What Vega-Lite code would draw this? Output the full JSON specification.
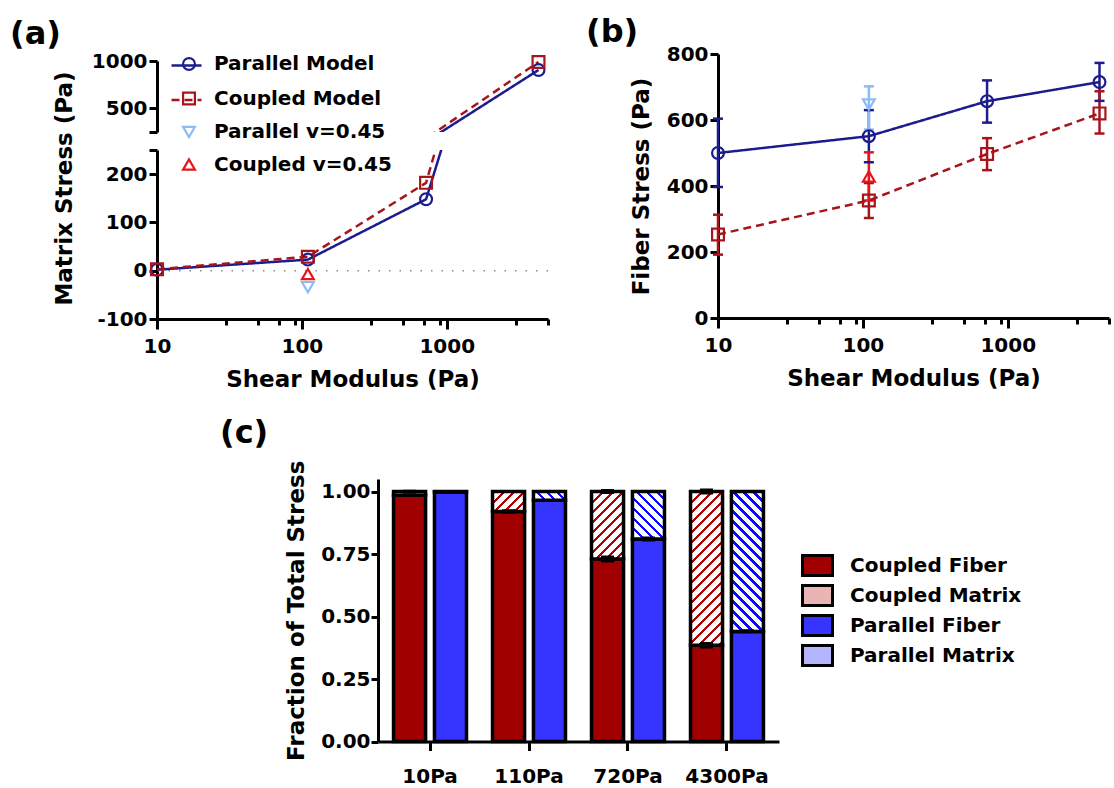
{
"$schema":"https://vega.github.io/schema/vega-lite/v6.json",
"background":"white",
"padding":{"left":10,"top":16,"right":3,"bottom":0},
"datasets":{
"aData":[
{"G":10,"stress":2,"series":"Parallel Model"},
{"G":110,"stress":23,"series":"Parallel Model"},
{"G":720,"stress":148,"series":"Parallel Model"},
{"G":4300,"stress":905,"series":"Parallel Model"},
{"G":10,"stress":3,"series":"Coupled Model"},
{"G":110,"stress":29,"series":"Coupled Model"},
{"G":720,"stress":182,"series":"Coupled Model"},
{"G":4300,"stress":990,"series":"Coupled Model"},
{"G":110,"stress":-34,"series":"Parallel v=0.45"},
{"G":110,"stress":-7,"series":"Coupled v=0.45"}
],
"bData":[
{"G":10,"stress":500,"lo":397,"hi":604,"series":"Parallel Model"},
{"G":110,"stress":551,"lo":472,"hi":630,"series":"Parallel Model"},
{"G":720,"stress":657,"lo":592,"hi":720,"series":"Parallel Model"},
{"G":4300,"stress":715,"lo":658,"hi":773,"series":"Parallel Model"},
{"G":10,"stress":253,"lo":192,"hi":313,"series":"Coupled Model"},
{"G":110,"stress":356,"lo":303,"hi":409,"series":"Coupled Model"},
{"G":720,"stress":497,"lo":448,"hi":545,"series":"Coupled Model"},
{"G":4300,"stress":620,"lo":559,"hi":687,"series":"Coupled Model"},
{"G":110,"stress":647,"lo":571,"hi":702,"series":"Parallel v=0.45"},
{"G":110,"stress":429,"lo":356,"hi":502,"series":"Coupled v=0.45"}
],
"cData":[
{"group":"10Pa","model":"Coupled","part":"Coupled Fiber","low":0,"high":0.985,"key":"C10F"},
{"group":"10Pa","model":"Coupled","part":"Coupled Matrix","low":0.985,"high":1,"key":"C10M"},
{"group":"10Pa","model":"Parallel","part":"Parallel Fiber","low":0,"high":0.998,"key":"P10F"},
{"group":"10Pa","model":"Parallel","part":"Parallel Matrix","low":0.998,"high":1,"key":"P10M"},
{"group":"110Pa","model":"Coupled","part":"Coupled Fiber","low":0,"high":0.92,"key":"C110F"},
{"group":"110Pa","model":"Coupled","part":"Coupled Matrix","low":0.92,"high":1,"key":"C110M"},
{"group":"110Pa","model":"Parallel","part":"Parallel Fiber","low":0,"high":0.965,"key":"P110F"},
{"group":"110Pa","model":"Parallel","part":"Parallel Matrix","low":0.965,"high":1,"key":"P110M"},
{"group":"720Pa","model":"Coupled","part":"Coupled Fiber","low":0,"high":0.73,"key":"C720F"},
{"group":"720Pa","model":"Coupled","part":"Coupled Matrix","low":0.73,"high":1,"key":"C720M"},
{"group":"720Pa","model":"Parallel","part":"Parallel Fiber","low":0,"high":0.81,"key":"P720F"},
{"group":"720Pa","model":"Parallel","part":"Parallel Matrix","low":0.81,"high":1,"key":"P720M"},
{"group":"4300Pa","model":"Coupled","part":"Coupled Fiber","low":0,"high":0.385,"key":"C4300F"},
{"group":"4300Pa","model":"Coupled","part":"Coupled Matrix","low":0.385,"high":1,"key":"C4300M"},
{"group":"4300Pa","model":"Parallel","part":"Parallel Fiber","low":0,"high":0.44,"key":"P4300F"},
{"group":"4300Pa","model":"Parallel","part":"Parallel Matrix","low":0.44,"high":1,"key":"P4300M"}
],
"cErr":[
{"group":"10Pa","model":"Coupled","low":0.978,"high":0.992},
{"group":"10Pa","model":"Coupled","low":0.993,"high":1.007},
{"group":"110Pa","model":"Coupled","low":0.911,"high":0.929},
{"group":"110Pa","model":"Coupled","low":0.994,"high":1.006},
{"group":"720Pa","model":"Coupled","low":0.716,"high":0.744},
{"group":"720Pa","model":"Coupled","low":0.99,"high":1.01},
{"group":"720Pa","model":"Parallel","low":0.8,"high":0.82},
{"group":"720Pa","model":"Parallel","low":0.995,"high":1.005},
{"group":"4300Pa","model":"Coupled","low":0.372,"high":0.398},
{"group":"4300Pa","model":"Coupled","low":0.988,"high":1.012},
{"group":"4300Pa","model":"Parallel","low":0.433,"high":0.449},
{"group":"4300Pa","model":"Parallel","low":0.995,"high":1.005}
]
},
"vconcat":[
{"hconcat":[
 {"vconcat":[
  {"width":391,"height":78,
   "title":{"text":"(a)","dx":-147,"offset":0},
   "data":{"name":"aData"},
   "layer":[
    {"transform":[{"filter":"datum.series == 'Parallel Model' || datum.series == 'Coupled Model'"}],
     "mark":{"type":"line","clip":true,"strokeWidth":2.5},
     "encoding":{
      "x":{"field":"G","type":"quantitative","scale":{"type":"log","domain":[10,5000],"nice":false},"axis":null},
      "y":{"field":"stress","type":"quantitative","scale":{"domain":[250,1000],"range":[78,7],"nice":false,"zero":false},"axis":{"values":[250,500,1000],"labelExpr":"datum.value == 250 ? '' : toString(datum.value)","tickSize":8,"labelPadding":2,"title":null}},
      "stroke":{"field":"series","type":"nominal","scale":{"domain":["Parallel Model","Coupled Model"],"range":["#1c1c8c","#a8141c"]},"legend":{"orient":"none","legendX":18,"legendY":0,"title":null,"symbolType":"M-1.5,0L1.5,0","symbolSize":400,"symbolStrokeWidth":2.5,"labelExpr":"''","rowPadding":12.5,"labelFontSize":20}},
      "strokeDash":{"field":"series","type":"nominal","scale":{"domain":["Parallel Model","Coupled Model"],"range":[[1,0],[8,5]]},"legend":{"orient":"none","legendX":18,"legendY":0,"title":null,"symbolType":"M-1.5,0L1.5,0","symbolSize":400,"symbolStrokeWidth":2.5,"labelExpr":"''","rowPadding":12.5,"labelFontSize":20}}
     }},
    {"transform":[{"filter":"datum.stress >= 250"}],
     "mark":{"type":"point","filled":false,"size":140,"strokeWidth":2.2,"opacity":1},
     "encoding":{
      "x":{"field":"G","type":"quantitative","scale":{"type":"log","domain":[10,5000],"nice":false},"axis":null},
      "y":{"field":"stress","type":"quantitative","scale":{"domain":[250,1000],"range":[78,7],"nice":false,"zero":false},"axis":{"values":[250,500,1000],"labelExpr":"datum.value == 250 ? '' : toString(datum.value)","tickSize":8,"labelPadding":2,"title":null}},
      "color":{"field":"series","type":"nominal","scale":{"domain":["Parallel Model","Coupled Model","Parallel v=0.45","Coupled v=0.45"],"range":["#1c1c8c","#a8141c","#8cbcf4","#e8141c"]},"legend":{"orient":"none","legendX":22,"legendY":0,"title":null,"symbolSize":140,"symbolStrokeWidth":2.2,"labelOffset":15,"rowPadding":12.5,"labelFontSize":20}},
      "shape":{"field":"series","type":"nominal","scale":{"domain":["Parallel Model","Coupled Model","Parallel v=0.45","Coupled v=0.45"],"range":["circle","square","triangle-down","triangle-up"]},"legend":{"orient":"none","legendX":22,"legendY":0,"title":null,"symbolSize":140,"symbolStrokeWidth":2.2,"labelOffset":15,"rowPadding":12.5,"labelFontSize":20}}
     }}
   ]},
  {"width":391,"height":169,
   "data":{"name":"aData"},
   "layer":[
    {"data":{"values":[{"z":0}]},
     "mark":{"type":"rule","color":"#8a8a8a","strokeWidth":1.5,"strokeDash":[1.5,9]},
     "encoding":{"y":{"datum":0}}},
    {"transform":[{"filter":"datum.series == 'Parallel Model' || datum.series == 'Coupled Model'"}],
     "mark":{"type":"line","clip":true,"strokeWidth":2.5},
     "encoding":{
      "x":{"field":"G","type":"quantitative","scale":{"type":"log","domain":[10,5000],"nice":false},"axis":{"values":[10,30,50,70,90,100,300,500,700,900,1000,3000,5000],"labelExpr":"datum.value == 10 || datum.value == 100 || datum.value == 1000 ? toString(datum.value) : ''","tickSize":10,"tickDash":{"condition":{"test":"datum.value == 10 || datum.value == 100 || datum.value == 1000","value":[]},"value":[6,20]},"labelPadding":7,"title":"Shear Modulus (Pa)","titlePadding":12}},
      "y":{"field":"stress","type":"quantitative","scale":{"domain":[-100,250],"nice":false,"zero":false},"axis":{"values":[-100,0,100,200,250],"labelExpr":"datum.value == 250 ? '' : toString(datum.value)","tickSize":8,"labelPadding":2,"title":"Matrix Stress (Pa)","titleY":38,"titlePadding":20}},
      "stroke":{"field":"series","type":"nominal","scale":{"domain":["Parallel Model","Coupled Model"],"range":["#1c1c8c","#a8141c"]},"legend":null},
      "strokeDash":{"field":"series","type":"nominal","scale":{"domain":["Parallel Model","Coupled Model"],"range":[[1,0],[8,5]]},"legend":null}
     }},
    {"transform":[{"filter":"datum.stress <= 250"}],
     "mark":{"type":"point","filled":false,"size":140,"strokeWidth":2.2,"opacity":1},
     "encoding":{
      "x":{"field":"G","type":"quantitative","scale":{"type":"log","domain":[10,5000],"nice":false}},
      "y":{"field":"stress","type":"quantitative","scale":{"domain":[-100,250],"nice":false,"zero":false}},
      "color":{"field":"series","type":"nominal","scale":{"domain":["Parallel Model","Coupled Model","Parallel v=0.45","Coupled v=0.45"],"range":["#1c1c8c","#a8141c","#8cbcf4","#e8141c"]},"legend":null},
      "shape":{"field":"series","type":"nominal","scale":{"domain":["Parallel Model","Coupled Model","Parallel v=0.45","Coupled v=0.45"],"range":["circle","square","triangle-down","triangle-up"]},"legend":null}
     }}
   ]}
 ],
 "spacing":18,"bounds":"flush",
 "resolve":{"scale":{"x":"independent","y":"independent","color":"independent","shape":"independent","stroke":"independent","strokeDash":"independent"},"legend":{"color":"independent","shape":"independent","stroke":"independent","strokeDash":"independent"}}},
 {"width":391,"height":264,
  "title":{"text":"(b)","dx":-132,"offset":-5},
  "data":{"name":"bData"},
  "layer":[
   {"mark":{"type":"rule","strokeWidth":2.5},
    "encoding":{
     "x":{"field":"G","type":"quantitative","scale":{"type":"log","domain":[10,5000],"nice":false},"axis":{"values":[10,30,50,70,90,100,300,500,700,900,1000,3000,5000],"labelExpr":"datum.value == 10 || datum.value == 100 || datum.value == 1000 ? toString(datum.value) : ''","tickSize":10,"tickDash":{"condition":{"test":"datum.value == 10 || datum.value == 100 || datum.value == 1000","value":[]},"value":[6,20]},"labelPadding":7,"title":"Shear Modulus (Pa)","titlePadding":12}},
     "y":{"field":"lo","type":"quantitative","scale":{"domain":[0,800],"nice":false},"axis":{"values":[0,200,400,600,800],"tickSize":8,"labelPadding":2,"title":"Fiber Stress (Pa)","titlePadding":13}},
     "y2":{"field":"hi"},
     "color":{"field":"series","type":"nominal","scale":{"domain":["Parallel Model","Coupled Model","Parallel v=0.45","Coupled v=0.45"],"range":["#1c1c8c","#a8141c","#8cbcf4","#e8141c"]},"legend":null}
    }},
   {"mark":{"type":"tick","orient":"horizontal","size":10,"thickness":2.5,"opacity":1},
    "encoding":{
     "x":{"field":"G","type":"quantitative","scale":{"type":"log","domain":[10,5000],"nice":false}},
     "y":{"field":"lo","type":"quantitative","scale":{"domain":[0,800],"nice":false},"axis":{"values":[0,200,400,600,800],"tickSize":8,"labelPadding":2,"title":"Fiber Stress (Pa)","titlePadding":13}},
     "color":{"field":"series","type":"nominal","legend":null}
    }},
   {"mark":{"type":"tick","orient":"horizontal","size":10,"thickness":2.5,"opacity":1},
    "encoding":{
     "x":{"field":"G","type":"quantitative","scale":{"type":"log","domain":[10,5000],"nice":false}},
     "y":{"field":"hi","type":"quantitative","scale":{"domain":[0,800],"nice":false},"axis":{"values":[0,200,400,600,800],"tickSize":8,"labelPadding":2,"title":"Fiber Stress (Pa)","titlePadding":13}},
     "color":{"field":"series","type":"nominal","legend":null}
    }},
   {"transform":[{"filter":"datum.series == 'Parallel Model' || datum.series == 'Coupled Model'"}],
    "mark":{"type":"line","strokeWidth":2.5},
    "encoding":{
     "x":{"field":"G","type":"quantitative","scale":{"type":"log","domain":[10,5000],"nice":false}},
     "y":{"field":"stress","type":"quantitative","scale":{"domain":[0,800],"nice":false},"axis":{"values":[0,200,400,600,800],"tickSize":8,"labelPadding":2,"title":"Fiber Stress (Pa)","titlePadding":13}},
     "stroke":{"field":"series","type":"nominal","scale":{"domain":["Parallel Model","Coupled Model"],"range":["#1c1c8c","#a8141c"]},"legend":null},
     "strokeDash":{"field":"series","type":"nominal","scale":{"domain":["Parallel Model","Coupled Model"],"range":[[1,0],[8,5]]},"legend":null}
    }},
   {"mark":{"type":"point","filled":false,"size":140,"strokeWidth":2.2,"opacity":1},
    "encoding":{
     "x":{"field":"G","type":"quantitative","scale":{"type":"log","domain":[10,5000],"nice":false}},
     "y":{"field":"stress","type":"quantitative","scale":{"domain":[0,800],"nice":false},"axis":{"values":[0,200,400,600,800],"tickSize":8,"labelPadding":2,"title":"Fiber Stress (Pa)","titlePadding":13}},
     "color":{"field":"series","type":"nominal","legend":null},
     "shape":{"field":"series","type":"nominal","scale":{"domain":["Parallel Model","Coupled Model","Parallel v=0.45","Coupled v=0.45"],"range":["circle","square","triangle-down","triangle-up"]},"legend":null}
    }}
  ]}
],
"spacing":561,"bounds":"flush",
"resolve":{"scale":{"color":"independent","shape":"independent","stroke":"independent","strokeDash":"independent"},"legend":{"color":"independent","shape":"independent","stroke":"independent","strokeDash":"independent"}}},
{"hconcat":[
 {"width":201,"height":20,"data":{"values":[{"s":1}]},"mark":{"type":"point","opacity":0},"encoding":{}},
 {"width":401,"height":262.5,
  "title":{"text":"(c)","dx":-158,"offset":10},
  "encoding":{
   "x":{"field":"group","type":"nominal","scale":{"domain":["10Pa","110Pa","720Pa","4300Pa"],"paddingInner":0.263,"paddingOuter":0.157},"axis":{"title":null,"labelPadding":16,"tickSize":9,"labelAngle":0}},
   "xOffset":{"field":"model","type":"nominal","scale":{"domain":["Coupled","Parallel"],"paddingInner":0.217,"paddingOuter":0}},
   "y":{"field":"low","type":"quantitative","scale":{"domain":[0,1.05],"nice":false},"axis":{"values":[0,0.25,0.5,0.75,1],"format":".2f","tickSize":7,"labelPadding":1,"title":"Fraction of Total Stress","titlePadding":12}},
   "y2":{"field":"high"}
  },
  "layer":[
   {"data":{"name":"cData"},
    "transform":[{"filter":"datum.part == 'Coupled Fiber' || datum.part == 'Parallel Fiber'"}],
    "mark":{"type":"bar","stroke":"black","strokeWidth":3.5},
    "encoding":{"fill":{"field":"part","type":"nominal",
     "scale":{"domain":["Coupled Fiber","Coupled Matrix","Parallel Fiber","Parallel Matrix"],
      "range":["#a00000","#eab4b4","#3535ff","#b4b4fa"]},
     "legend":{"orient":"none","legendX":649,"legendY":75,"title":null,"symbolType":"M-1.5,-1L1.5,-1L1.5,1L-1.5,1Z","symbolSize":400,"symbolStrokeColor":"black","symbolStrokeWidth":3,"labelOffset":21,"rowPadding":-3,"labelFontSize":20}}}},
   {"data":{"name":"cData"},
    "transform":[{"filter":"datum.key == 'C10M' || datum.key == 'P10M'"}],
    "mark":{"type":"bar","fill":"#ffffff","stroke":"black","strokeWidth":3.5}},
   {"data":{"name":"cData"},
    "transform":[{"filter":"datum.key == 'C110M'"}],
    "mark":{"type":"bar","stroke":"black","strokeWidth":3.5,
     "fill":{"gradient":"linear","x1":0,"y1":0,"x2":1.1685,"y2":0.7303,"stops":[{"offset":0,"color":"#b00000"},{"offset":0.0673,"color":"#b00000"},{"offset":0.0673,"color":"#ffffff"},{"offset":0.1923,"color":"#ffffff"},{"offset":0.1923,"color":"#b00000"},{"offset":0.2596,"color":"#b00000"},{"offset":0.2596,"color":"#ffffff"},{"offset":0.3846,"color":"#ffffff"},{"offset":0.3846,"color":"#b00000"},{"offset":0.4519,"color":"#b00000"},{"offset":0.4519,"color":"#ffffff"},{"offset":0.5769,"color":"#ffffff"},{"offset":0.5769,"color":"#b00000"},{"offset":0.6442,"color":"#b00000"},{"offset":0.6442,"color":"#ffffff"},{"offset":0.7692,"color":"#ffffff"},{"offset":0.7692,"color":"#b00000"},{"offset":0.8365,"color":"#b00000"},{"offset":0.8365,"color":"#ffffff"},{"offset":0.9615,"color":"#ffffff"},{"offset":0.9615,"color":"#b00000"},{"offset":1,"color":"#b00000"}]}}},
   {"data":{"name":"cData"},
    "transform":[{"filter":"datum.key == 'C720M'"}],
    "mark":{"type":"bar","stroke":"black","strokeWidth":3.5,
     "fill":{"gradient":"linear","x1":0,"y1":0,"x2":0.5706,"y2":1.2036,"stops":[{"offset":0,"color":"#b00000"},{"offset":0.0352,"color":"#b00000"},{"offset":0.0352,"color":"#ffffff"},{"offset":0.1005,"color":"#ffffff"},{"offset":0.1005,"color":"#b00000"},{"offset":0.1357,"color":"#b00000"},{"offset":0.1357,"color":"#ffffff"},{"offset":0.201,"color":"#ffffff"},{"offset":0.201,"color":"#b00000"},{"offset":0.2362,"color":"#b00000"},{"offset":0.2362,"color":"#ffffff"},{"offset":0.3015,"color":"#ffffff"},{"offset":0.3015,"color":"#b00000"},{"offset":0.3367,"color":"#b00000"},{"offset":0.3367,"color":"#ffffff"},{"offset":0.402,"color":"#ffffff"},{"offset":0.402,"color":"#b00000"},{"offset":0.4372,"color":"#b00000"},{"offset":0.4372,"color":"#ffffff"},{"offset":0.5025,"color":"#ffffff"},{"offset":0.5025,"color":"#b00000"},{"offset":0.5377,"color":"#b00000"},{"offset":0.5377,"color":"#ffffff"},{"offset":0.603,"color":"#ffffff"},{"offset":0.603,"color":"#b00000"},{"offset":0.6382,"color":"#b00000"},{"offset":0.6382,"color":"#ffffff"},{"offset":0.7035,"color":"#ffffff"},{"offset":0.7035,"color":"#b00000"},{"offset":0.7387,"color":"#b00000"},{"offset":0.7387,"color":"#ffffff"},{"offset":0.804,"color":"#ffffff"},{"offset":0.804,"color":"#b00000"},{"offset":0.8392,"color":"#b00000"},{"offset":0.8392,"color":"#ffffff"},{"offset":0.9045,"color":"#ffffff"},{"offset":0.9045,"color":"#b00000"},{"offset":0.9397,"color":"#b00000"},{"offset":0.9397,"color":"#ffffff"},{"offset":1,"color":"#ffffff"}]}}},
   {"data":{"name":"cData"},
    "transform":[{"filter":"datum.key == 'C4300M'"}],
    "mark":{"type":"bar","stroke":"black","strokeWidth":3.5,
     "fill":{"gradient":"linear","x1":0,"y1":0,"x2":0.241,"y2":1.158,"stops":[{"offset":0,"color":"#b00000"},{"offset":0.0188,"color":"#b00000"},{"offset":0.0188,"color":"#ffffff"},{"offset":0.0538,"color":"#ffffff"},{"offset":0.0538,"color":"#b00000"},{"offset":0.0727,"color":"#b00000"},{"offset":0.0727,"color":"#ffffff"},{"offset":0.1077,"color":"#ffffff"},{"offset":0.1077,"color":"#b00000"},{"offset":0.1265,"color":"#b00000"},{"offset":0.1265,"color":"#ffffff"},{"offset":0.1615,"color":"#ffffff"},{"offset":0.1615,"color":"#b00000"},{"offset":0.1804,"color":"#b00000"},{"offset":0.1804,"color":"#ffffff"},{"offset":0.2154,"color":"#ffffff"},{"offset":0.2154,"color":"#b00000"},{"offset":0.2342,"color":"#b00000"},{"offset":0.2342,"color":"#ffffff"},{"offset":0.2692,"color":"#ffffff"},{"offset":0.2692,"color":"#b00000"},{"offset":0.2881,"color":"#b00000"},{"offset":0.2881,"color":"#ffffff"},{"offset":0.323,"color":"#ffffff"},{"offset":0.323,"color":"#b00000"},{"offset":0.3419,"color":"#b00000"},{"offset":0.3419,"color":"#ffffff"},{"offset":0.3769,"color":"#ffffff"},{"offset":0.3769,"color":"#b00000"},{"offset":0.3957,"color":"#b00000"},{"offset":0.3957,"color":"#ffffff"},{"offset":0.4307,"color":"#ffffff"},{"offset":0.4307,"color":"#b00000"},{"offset":0.4496,"color":"#b00000"},{"offset":0.4496,"color":"#ffffff"},{"offset":0.4846,"color":"#ffffff"},{"offset":0.4846,"color":"#b00000"},{"offset":0.5034,"color":"#b00000"},{"offset":0.5034,"color":"#ffffff"},{"offset":0.5384,"color":"#ffffff"},{"offset":0.5384,"color":"#b00000"},{"offset":0.5573,"color":"#b00000"},{"offset":0.5573,"color":"#ffffff"},{"offset":0.5922,"color":"#ffffff"},{"offset":0.5922,"color":"#b00000"},{"offset":0.6111,"color":"#b00000"},{"offset":0.6111,"color":"#ffffff"},{"offset":0.6461,"color":"#ffffff"},{"offset":0.6461,"color":"#b00000"},{"offset":0.6649,"color":"#b00000"},{"offset":0.6649,"color":"#ffffff"},{"offset":0.6999,"color":"#ffffff"},{"offset":0.6999,"color":"#b00000"},{"offset":0.7188,"color":"#b00000"},{"offset":0.7188,"color":"#ffffff"},{"offset":0.7538,"color":"#ffffff"},{"offset":0.7538,"color":"#b00000"},{"offset":0.7726,"color":"#b00000"},{"offset":0.7726,"color":"#ffffff"},{"offset":0.8076,"color":"#ffffff"},{"offset":0.8076,"color":"#b00000"},{"offset":0.8264,"color":"#b00000"},{"offset":0.8264,"color":"#ffffff"},{"offset":0.8614,"color":"#ffffff"},{"offset":0.8614,"color":"#b00000"},{"offset":0.8803,"color":"#b00000"},{"offset":0.8803,"color":"#ffffff"},{"offset":0.9153,"color":"#ffffff"},{"offset":0.9153,"color":"#b00000"},{"offset":0.9341,"color":"#b00000"},{"offset":0.9341,"color":"#ffffff"},{"offset":0.9691,"color":"#ffffff"},{"offset":0.9691,"color":"#b00000"},{"offset":0.988,"color":"#b00000"},{"offset":0.988,"color":"#ffffff"},{"offset":1,"color":"#ffffff"}]}}},
   {"data":{"name":"cData"},
    "transform":[{"filter":"datum.key == 'P110M'"}],
    "mark":{"type":"bar","stroke":"black","strokeWidth":3.5,
     "fill":{"gradient":"linear","x1":0,"y1":1,"x2":1.1849,"y2":0.676,"stops":[{"offset":0,"color":"#0a0aff"},{"offset":0.0859,"color":"#0a0aff"},{"offset":0.0859,"color":"#ffffff"},{"offset":0.2454,"color":"#ffffff"},{"offset":0.2454,"color":"#0a0aff"},{"offset":0.3313,"color":"#0a0aff"},{"offset":0.3313,"color":"#ffffff"},{"offset":0.4908,"color":"#ffffff"},{"offset":0.4908,"color":"#0a0aff"},{"offset":0.5767,"color":"#0a0aff"},{"offset":0.5767,"color":"#ffffff"},{"offset":0.7362,"color":"#ffffff"},{"offset":0.7362,"color":"#0a0aff"},{"offset":0.8221,"color":"#0a0aff"},{"offset":0.8221,"color":"#ffffff"},{"offset":0.9816,"color":"#ffffff"},{"offset":0.9816,"color":"#0a0aff"},{"offset":1,"color":"#0a0aff"}]}}},
   {"data":{"name":"cData"},
    "transform":[{"filter":"datum.key == 'P720M'"}],
    "mark":{"type":"bar","stroke":"black","strokeWidth":3.5,
     "fill":{"gradient":"linear","x1":0,"y1":1,"x2":0.7755,"y2":-0.1512,"stops":[{"offset":0,"color":"#0a0aff"},{"offset":0.044,"color":"#0a0aff"},{"offset":0.044,"color":"#ffffff"},{"offset":0.1258,"color":"#ffffff"},{"offset":0.1258,"color":"#0a0aff"},{"offset":0.1698,"color":"#0a0aff"},{"offset":0.1698,"color":"#ffffff"},{"offset":0.2516,"color":"#ffffff"},{"offset":0.2516,"color":"#0a0aff"},{"offset":0.2956,"color":"#0a0aff"},{"offset":0.2956,"color":"#ffffff"},{"offset":0.3774,"color":"#ffffff"},{"offset":0.3774,"color":"#0a0aff"},{"offset":0.4214,"color":"#0a0aff"},{"offset":0.4214,"color":"#ffffff"},{"offset":0.5032,"color":"#ffffff"},{"offset":0.5032,"color":"#0a0aff"},{"offset":0.5472,"color":"#0a0aff"},{"offset":0.5472,"color":"#ffffff"},{"offset":0.629,"color":"#ffffff"},{"offset":0.629,"color":"#0a0aff"},{"offset":0.673,"color":"#0a0aff"},{"offset":0.673,"color":"#ffffff"},{"offset":0.7548,"color":"#ffffff"},{"offset":0.7548,"color":"#0a0aff"},{"offset":0.7988,"color":"#0a0aff"},{"offset":0.7988,"color":"#ffffff"},{"offset":0.8806,"color":"#ffffff"},{"offset":0.8806,"color":"#0a0aff"},{"offset":0.9246,"color":"#0a0aff"},{"offset":0.9246,"color":"#ffffff"},{"offset":1,"color":"#ffffff"}]}}},
   {"data":{"name":"cData"},
    "transform":[{"filter":"datum.key == 'P4300M'"}],
    "mark":{"type":"bar","stroke":"black","strokeWidth":3.5,
     "fill":{"gradient":"linear","x1":0,"y1":1,"x2":0.26687,"y2":-0.1676,"stops":[{"offset":0,"color":"#0a0aff"},{"offset":0.0203,"color":"#0a0aff"},{"offset":0.0203,"color":"#ffffff"},{"offset":0.0581,"color":"#ffffff"},{"offset":0.0581,"color":"#0a0aff"},{"offset":0.0785,"color":"#0a0aff"},{"offset":0.0785,"color":"#ffffff"},{"offset":0.1163,"color":"#ffffff"},{"offset":0.1163,"color":"#0a0aff"},{"offset":0.1366,"color":"#0a0aff"},{"offset":0.1366,"color":"#ffffff"},{"offset":0.1744,"color":"#ffffff"},{"offset":0.1744,"color":"#0a0aff"},{"offset":0.1948,"color":"#0a0aff"},{"offset":0.1948,"color":"#ffffff"},{"offset":0.2326,"color":"#ffffff"},{"offset":0.2326,"color":"#0a0aff"},{"offset":0.2529,"color":"#0a0aff"},{"offset":0.2529,"color":"#ffffff"},{"offset":0.2907,"color":"#ffffff"},{"offset":0.2907,"color":"#0a0aff"},{"offset":0.311,"color":"#0a0aff"},{"offset":0.311,"color":"#ffffff"},{"offset":0.3488,"color":"#ffffff"},{"offset":0.3488,"color":"#0a0aff"},{"offset":0.3692,"color":"#0a0aff"},{"offset":0.3692,"color":"#ffffff"},{"offset":0.407,"color":"#ffffff"},{"offset":0.407,"color":"#0a0aff"},{"offset":0.4273,"color":"#0a0aff"},{"offset":0.4273,"color":"#ffffff"},{"offset":0.4651,"color":"#ffffff"},{"offset":0.4651,"color":"#0a0aff"},{"offset":0.4855,"color":"#0a0aff"},{"offset":0.4855,"color":"#ffffff"},{"offset":0.5233,"color":"#ffffff"},{"offset":0.5233,"color":"#0a0aff"},{"offset":0.5436,"color":"#0a0aff"},{"offset":0.5436,"color":"#ffffff"},{"offset":0.5814,"color":"#ffffff"},{"offset":0.5814,"color":"#0a0aff"},{"offset":0.6017,"color":"#0a0aff"},{"offset":0.6017,"color":"#ffffff"},{"offset":0.6395,"color":"#ffffff"},{"offset":0.6395,"color":"#0a0aff"},{"offset":0.6599,"color":"#0a0aff"},{"offset":0.6599,"color":"#ffffff"},{"offset":0.6977,"color":"#ffffff"},{"offset":0.6977,"color":"#0a0aff"},{"offset":0.718,"color":"#0a0aff"},{"offset":0.718,"color":"#ffffff"},{"offset":0.7558,"color":"#ffffff"},{"offset":0.7558,"color":"#0a0aff"},{"offset":0.7762,"color":"#0a0aff"},{"offset":0.7762,"color":"#ffffff"},{"offset":0.814,"color":"#ffffff"},{"offset":0.814,"color":"#0a0aff"},{"offset":0.8343,"color":"#0a0aff"},{"offset":0.8343,"color":"#ffffff"},{"offset":0.8721,"color":"#ffffff"},{"offset":0.8721,"color":"#0a0aff"},{"offset":0.8924,"color":"#0a0aff"},{"offset":0.8924,"color":"#ffffff"},{"offset":0.9302,"color":"#ffffff"},{"offset":0.9302,"color":"#0a0aff"},{"offset":0.9506,"color":"#0a0aff"},{"offset":0.9506,"color":"#ffffff"},{"offset":0.9884,"color":"#ffffff"},{"offset":0.9884,"color":"#0a0aff"},{"offset":1,"color":"#0a0aff"}]}}},
   {"data":{"name":"cErr"},
    "mark":{"type":"bar","fill":"black","width":13}}
  ]}
],
"spacing":20,"bounds":"flush"}
],
"spacing":425,"bounds":"flush",
"resolve":{"scale":{"color":"independent","shape":"independent","stroke":"independent","strokeDash":"independent","fill":"independent"},"legend":{"color":"independent","shape":"independent","stroke":"independent","strokeDash":"independent","fill":"independent"}},
"config":{
 "view":{"stroke":null},
 "axis":{"domainColor":"black","domainWidth":3,"tickColor":"black","tickWidth":3,"labelFont":"DejaVu Sans","labelFontWeight":"bold","labelFontSize":20,"labelColor":"black","titleFont":"DejaVu Sans","titleFontWeight":"bold","titleFontSize":23,"titleColor":"black","grid":false,"labelFlush":false,"labelOverlap":false},
 "legend":{"labelFont":"DejaVu Sans","labelFontWeight":"bold","labelFontSize":20,"labelColor":"black","symbolOpacity":1,"labelLimit":400},
 "title":{"font":"DejaVu Sans","fontSize":32,"fontWeight":"bold","color":"black","anchor":"start","frame":"group"}
}
}
